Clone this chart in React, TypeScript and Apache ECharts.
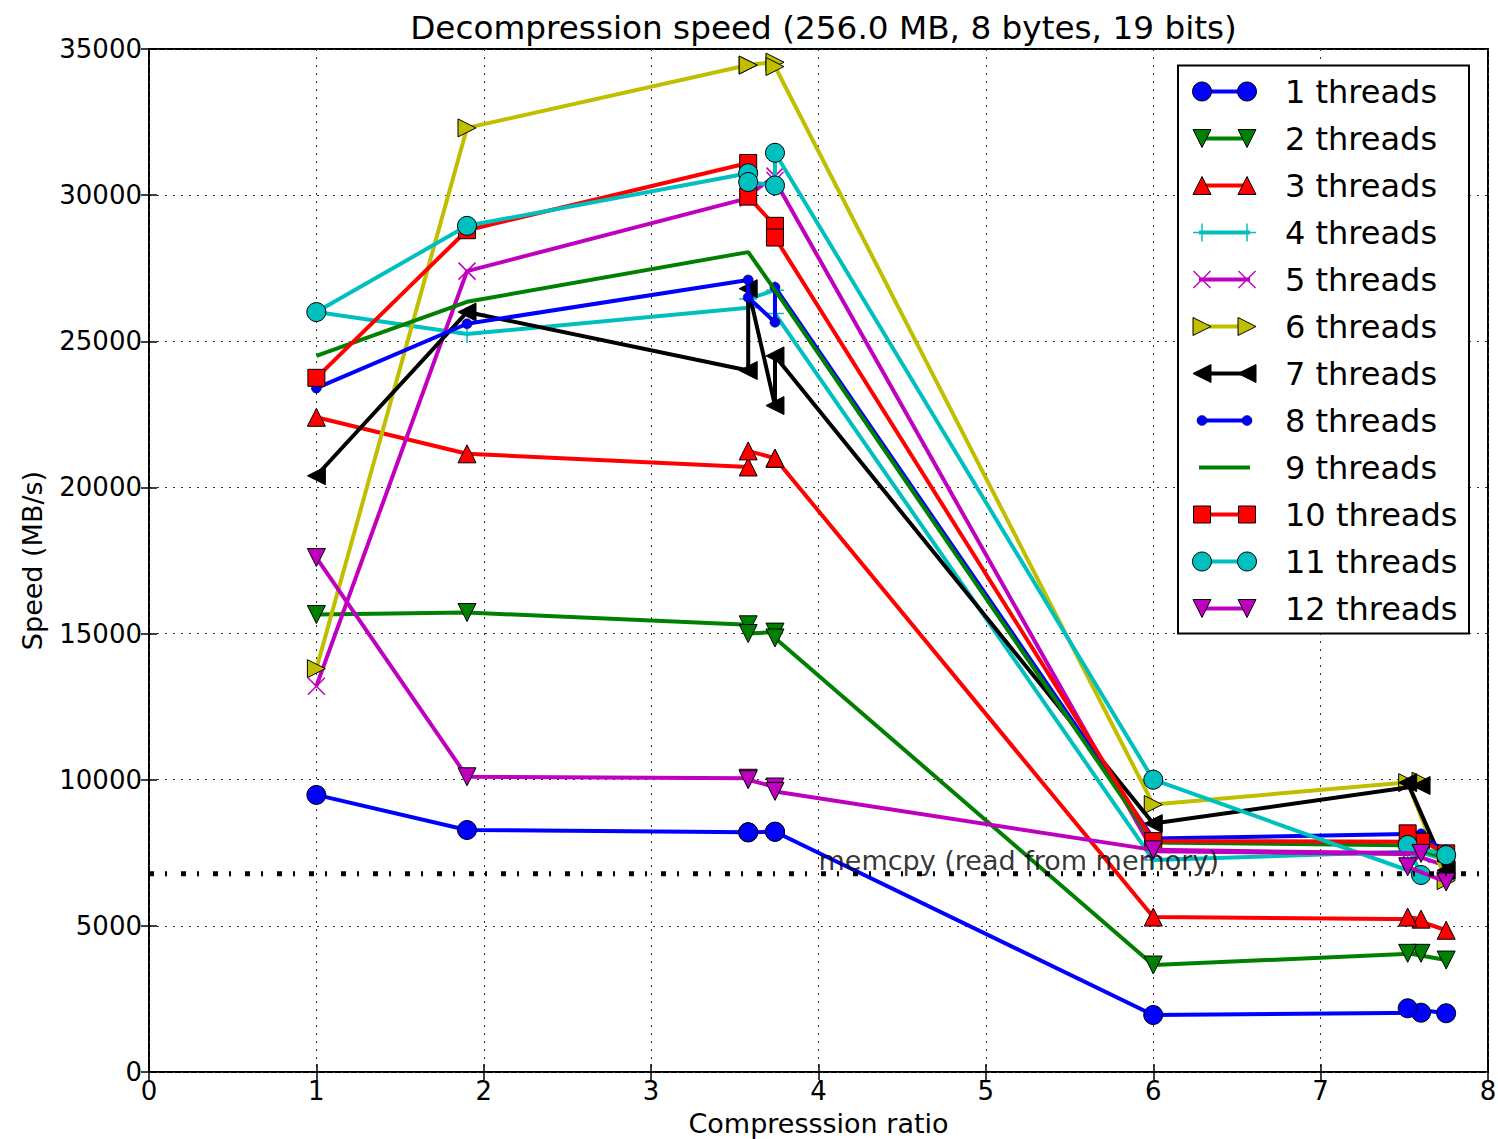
import React, { useEffect, useRef } from "react";
import * as echarts from "echarts";

// Compression ratios (x) shared by every thread count, in plotting order
const ratios = [1.0, 1.9, 3.58, 3.58, 3.74, 3.74, 6.0, 7.6, 7.52, 7.75];

const seriesNames = [
  "1 threads", "2 threads", "3 threads", "4 threads", "5 threads", "6 threads",
  "7 threads", "8 threads", "9 threads", "10 threads", "11 threads", "12 threads",
];

const speeds1 = [9480, 8280, 8200, 8200, 8220, 8220, 1950, 2030, 2180, 2010];
const speeds2 = [15650, 15720, 15300, 15000, 15050, 14850, 3660, 4060, 4060, 3830];
const speeds3 = [22400, 21150, 20700, 21250, 21000, 21000, 5300, 5230, 5300, 4850];
const speeds4 = [26000, 25250, 26150, 26450, 26750, 25950, 7250, 7550, 7650, 7250];
const speeds5 = [13200, 27400, 29900, 30000, 30650, 30500, 7550, 7450, 7500, 7050];
const speeds6 = [13800, 32300, 34450, 34450, 34550, 34400, 9150, 9950, 9900, 6550];
const speeds7 = [20400, 26000, 24000, 26800, 22800, 24500, 8500, 9800, 9900, 6900];
const speeds8 = [23400, 25600, 27100, 26500, 25650, 26850, 7990, 8150, 8200, 7600];
const speeds9 = [24500, 26350, 28050, 28050, 26750, 26750, 7850, 7750, 7750, 7300];
const speeds10 = [23750, 28800, 31100, 29950, 28950, 28550, 7900, 7880, 8165, 7480];
const speeds11 = [26000, 28950, 30750, 30450, 30330, 31450, 10000, 6740, 7770, 7420];
const speeds12 = [17600, 10100, 10050, 10000, 9750, 9600, 7600, 7480, 7020, 6500];

const allSpeeds = [
  speeds1, speeds2, speeds3, speeds4, speeds5, speeds6,
  speeds7, speeds8, speeds9, speeds10, speeds11, speeds12,
];

const seriesColors = [
  "#0000ff", "#008000", "#ff0000", "#00bfbf", "#bf00bf", "#bfbf00",
  "#000000", "#0000ff", "#008000", "#ff0000", "#00bfbf", "#bf00bf",
];
const seriesMarkers = ["o", "v", "^", "+", "x", ">", "<", ".", "", "s", "o", "v"];

const memcpySpeed = 6780;
const memcpyLabel = "memcpy (read from memory)";
const memcpyLabelX = 4.0;

const titleText = "Decompression speed (256.0 MB, 8 bytes, 19 bits)";
const xName = "Compresssion ratio";
const yName = "Speed (MB/s)";

const FONT = "DejaVu Sans";

function symbolFor(m: string): { symbol: string; size: number } {
  switch (m) {
    case "o": return { symbol: "circle", size: 19 };
    case "v": return { symbol: "path://M0,0L10,0L5,10Z", size: 18 };
    case "^": return { symbol: "triangle", size: 18 };
    case ">": return { symbol: "path://M0,0L10,5L0,10Z", size: 18 };
    case "<": return { symbol: "path://M10,0L0,5L10,10Z", size: 18 };
    case "+": return { symbol: "path://M0,5L10,5M5,0L5,10", size: 18 };
    case "x": return { symbol: "path://M0,0L10,10M10,0L0,10", size: 17 };
    case ".": return { symbol: "circle", size: 10 };
    case "s": return { symbol: "rect", size: 17 };
    default: return { symbol: "none", size: 0 };
  }
}

function legendMarker(m: string, color: string, cx: number, cy: number): any[] {
  const edge = { stroke: "#000", lineWidth: 1 };
  const h = 9;
  const z = 101;
  switch (m) {
    case "o":
      return [{ type: "circle", z, shape: { cx, cy, r: 9.5 }, style: { fill: color, ...edge } }];
    case "v":
      return [{ type: "polygon", z, shape: { points: [[cx - h, cy - h], [cx + h, cy - h], [cx, cy + h]] }, style: { fill: color, ...edge } }];
    case "^":
      return [{ type: "polygon", z, shape: { points: [[cx - h, cy + h], [cx + h, cy + h], [cx, cy - h]] }, style: { fill: color, ...edge } }];
    case ">":
      return [{ type: "polygon", z, shape: { points: [[cx - h, cy - h], [cx + h, cy], [cx - h, cy + h]] }, style: { fill: color, ...edge } }];
    case "<":
      return [{ type: "polygon", z, shape: { points: [[cx + h, cy - h], [cx - h, cy], [cx + h, cy + h]] }, style: { fill: color, ...edge } }];
    case "+":
      return [
        { type: "line", z, shape: { x1: cx - h, y1: cy, x2: cx + h, y2: cy }, style: { stroke: color, lineWidth: 1.5 } },
        { type: "line", z, shape: { x1: cx, y1: cy - h, x2: cx, y2: cy + h }, style: { stroke: color, lineWidth: 1.5 } },
      ];
    case "x":
      return [
        { type: "line", z, shape: { x1: cx - 8.5, y1: cy - 8.5, x2: cx + 8.5, y2: cy + 8.5 }, style: { stroke: color, lineWidth: 1.5 } },
        { type: "line", z, shape: { x1: cx - 8.5, y1: cy + 8.5, x2: cx + 8.5, y2: cy - 8.5 }, style: { stroke: color, lineWidth: 1.5 } },
      ];
    case ".":
      return [{ type: "circle", z, shape: { cx, cy, r: 5 }, style: { fill: color, stroke: "#000", lineWidth: 0.5 } }];
    case "s":
      return [{ type: "rect", z, shape: { x: cx - 8.5, y: cy - 8.5, width: 17, height: 17 }, style: { fill: color, ...edge } }];
    default:
      return [];
  }
}

export default function App() {
  const ref = useRef<HTMLDivElement>(null);

  useEffect(() => {
    if (!ref.current) return;
    const chart = echarts.init(ref.current, undefined, { renderer: "svg" });

    const lineSeries = allSpeeds.map((vals, i) => {
      const s = symbolFor(seriesMarkers[i]);
      const isStroke = seriesMarkers[i] === "+" || seriesMarkers[i] === "x";
      return {
        type: "line",
        name: seriesNames[i],
        data: ratios.map((x, j) => [x, vals[j]]),
        z: 2 + i,
        symbol: s.symbol,
        symbolSize: s.size,
        showSymbol: s.symbol !== "none",
        lineStyle: { color: seriesColors[i], width: 4 },
        itemStyle: isStroke
          ? { color: seriesColors[i], borderColor: seriesColors[i], borderWidth: 1.5 }
          : { color: seriesColors[i], borderColor: "#000", borderWidth: seriesMarkers[i] === "." ? 0.5 : 1 },
        emphasis: { disabled: true },
        silent: true,
      };
    });

    const legendGraphics: any[] = [
      {
        type: "rect",
        z: 100,
        shape: { x: 1178, y: 65.5, width: 291, height: 568 },
        style: { fill: "#fff", stroke: "#000", lineWidth: 2 },
      },
    ];
    seriesNames.forEach((name, i) => {
      const cy = 91.5 + 47 * i;
      legendGraphics.push({
        type: "line",
        z: 101,
        shape: { x1: 1199, y1: cy, x2: 1250, y2: cy },
        style: { stroke: seriesColors[i], lineWidth: 4 },
      });
      legendGraphics.push(...legendMarker(seriesMarkers[i], seriesColors[i], 1202, cy));
      legendGraphics.push(...legendMarker(seriesMarkers[i], seriesColors[i], 1247, cy));
      legendGraphics.push({
        type: "text",
        z: 101,
        x: 1285,
        y: cy,
        style: {
          text: name,
          fontSize: 32,
          fontFamily: FONT,
          fill: "#000",
          align: "left",
          verticalAlign: "middle",
        },
      });
    });

    const plainNum = (v: number) => String(v);

    const option: any = {
      animation: false,
      backgroundColor: "#fff",
      title: {
        text: titleText,
        left: 818.5,
        top: 6,
        textAlign: "center",
        textStyle: { fontFamily: FONT, fontSize: 32.7, fontWeight: "normal", color: "#000" },
      },
      grid: {
        left: 149,
        top: 49,
        right: 10,
        bottom: 67,
        show: true,
        borderColor: "#000",
        borderWidth: 2,
        backgroundColor: "transparent",
        containLabel: false,
        outerBoundsMode: "none",
      },
      xAxis: [
        {
          type: "value",
          min: 0,
          max: 8,
          interval: 1,
          name: xName,
          nameLocation: "middle",
          nameGap: 38,
          nameTextStyle: { fontFamily: FONT, fontSize: 27, lineHeight: 27, color: "#000" },
          axisLine: { show: false },
          axisTick: { show: true, inside: true, length: 8, lineStyle: { color: "#000", width: 1.5 } },
          axisLabel: { fontFamily: FONT, fontSize: 26, color: "#000", margin: 6, formatter: plainNum },
          splitLine: { show: true, lineStyle: { color: "#333", width: 1, type: [2, 6] } },
        },
        {
          type: "value",
          position: "top",
          min: 0,
          max: 8,
          interval: 1,
          axisLine: { show: false },
          axisTick: { show: true, inside: true, length: 8, lineStyle: { color: "#000", width: 1.5 } },
          axisLabel: { show: false },
          splitLine: { show: false },
        },
      ],
      yAxis: [
        {
          type: "value",
          min: 0,
          max: 35000,
          interval: 5000,
          name: yName,
          nameLocation: "middle",
          nameGap: 103,
          nameTextStyle: { fontFamily: FONT, fontSize: 27, color: "#000" },
          axisLine: { show: false },
          axisTick: { show: true, inside: true, length: 8, lineStyle: { color: "#000", width: 1.5 } },
          axisLabel: { fontFamily: FONT, fontSize: 26, color: "#000", margin: 7, formatter: plainNum },
          splitLine: { show: true, lineStyle: { color: "#333", width: 1, type: [2, 6] } },
        },
        {
          type: "value",
          position: "right",
          min: 0,
          max: 35000,
          interval: 5000,
          axisLine: { show: false },
          axisTick: { show: true, inside: true, length: 8, lineStyle: { color: "#000", width: 1.5 } },
          axisLabel: { show: false },
          splitLine: { show: false },
        },
      ],
      series: [
        ...lineSeries,
        {
          type: "line",
          name: "memcpy",
          data: [[0, memcpySpeed], [8, memcpySpeed]],
          z: 30,
          symbol: "none",
          lineStyle: { color: "#000", width: 5, type: [5, 11, 2, 14] },
          emphasis: { disabled: true },
          silent: true,
        },
        {
          type: "scatter",
          name: "memcpy label",
          data: [[memcpyLabelX, memcpySpeed]],
          z: 31,
          symbolSize: 0,
          silent: true,
          label: {
            show: true,
            formatter: memcpyLabel,
            position: [0, -13],
            align: "left",
            verticalAlign: "middle",
            fontFamily: FONT,
            fontSize: 27,
            color: "#000",
          },
          emphasis: { disabled: true },
        },
      ],
      graphic: legendGraphics,
    };

    chart.setOption(option);
    return () => chart.dispose();
  }, []);

  return (
    <div
      ref={ref}
      style={{ position: "absolute", left: 0, top: 0, width: 1498, height: 1139 }}
    />
  );
}
